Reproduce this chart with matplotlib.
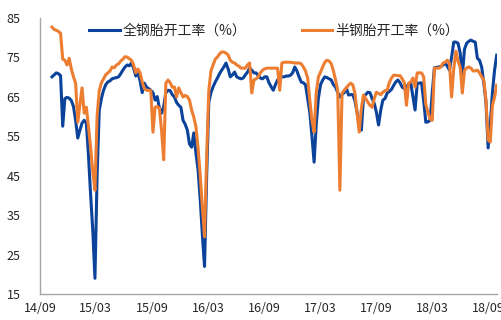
import matplotlib
matplotlib.use("Agg")
import matplotlib.pyplot as plt
import matplotlib.dates as mdates
import pandas as pd

plt.rcParams['font.family'] = ['Noto Sans CJK SC', 'DejaVu Sans']

# weekly operating rate, Oct 2014 - Sep 2018
start = "2014-10-10"
n_weeks = 208

all_steel = [
    70, 70.5, 71, 70.8, 70.3, 57.5, 64.5, 64.8, 64.6, 64,
    62.5, 59, 54.5, 56.5, 58.3, 59, 58.3, 50, 40, 31,
    19, 45, 61.5, 64.5, 66.6, 68, 68.7, 69, 69.5, 69.7,
    69.8, 70, 70.8, 71.7, 72.5, 73, 72.8, 73.5, 72.2, 70.2,
    71.2, 69, 66, 68.4, 67.4, 67, 66.6, 66, 64.1, 65,
    62, 60.8, 62.5, 66, 66.6, 66.5, 65.5, 64.9, 63.5, 62.8,
    62.3, 59, 58, 56.5, 53, 52.2, 55.8, 50.7, 46.4, 39,
    30, 22, 45, 63.6, 66, 67.5, 68.7, 69.7, 70.8, 71.7,
    72.5, 73.5, 72, 70, 70.5, 71.2, 70, 69.7, 69.5, 69.7,
    70.5, 71.2, 72.2, 71.7, 71, 71, 70.3, 69.7, 69.5, 70,
    70, 68.5, 67.5, 66.6, 68, 69.2, 69.7, 70, 70, 70.2,
    70.2, 70.4, 71, 72.5, 71.5, 70, 68.7, 68.5, 68, 64.5,
    61, 55, 48.4, 58, 64.6, 68, 69.2, 70, 69.8, 69.5,
    69.2, 68, 67.4, 66, 64.9, 65.5, 66, 67.2, 65.4, 65.5,
    65.5, 64, 61, 58, 56.5, 64.9, 65.5, 66.1, 66, 64.5,
    63.3, 61, 57.8, 61.5, 64.1, 64.5, 65.9, 66.3, 66.8, 67.8,
    68.7, 69.2, 68.5, 67.4, 67, 67.5, 68.2, 68.4, 65, 61.6,
    68.4, 68.4, 68.5, 64, 58.5, 58.6, 59, 66, 72.3, 72.4,
    72.5, 72.6, 73, 73.5, 72.7, 71.7, 75, 78.8, 78.8, 78.5,
    76, 70.4, 77, 78.5, 79, 79.3, 79, 78.8, 74.7, 74.2,
    72.5, 68.4, 63.6, 52, 57.8, 66.1, 71.7, 75.5,
]

semi_steel = [
    82.6, 82, 81.8, 81.5, 81, 74.5, 74.2, 73, 74.7, 72,
    70, 68.4, 58.5, 63, 67.2, 60.8, 62.3, 57.3, 52, 46,
    41.3, 60, 66.5, 68.5, 69.5, 70.5, 71, 71.5, 72.5, 72.3,
    73, 73.3, 74, 74.5, 75.1, 75, 74.6, 74.2, 73, 71,
    72, 71, 68.7, 67, 66.6, 66.6, 66.5, 56, 62.3, 62.5,
    62, 56.5, 49, 68.4, 69.2, 68.5, 67.4, 67.4, 64.9, 67.2,
    66, 64.9, 65.3, 65, 64.1, 61.6, 59.8, 57.3, 52, 45,
    37, 29.5, 50, 66.6, 71.5, 73, 74.5, 75, 75.8, 76.3,
    76.3, 76, 75.5, 74.2, 73.7, 73.5, 73, 72.7, 72.2, 72.2,
    72.2, 73, 73.5, 65.9, 69.2, 69.5, 70, 71, 71.7, 72,
    72.2, 72.2, 72.2, 72.2, 72.2, 72.2, 66.6, 73.5, 73.7, 73.7,
    73.7, 73.7, 73.6, 73.5, 73.5, 73.5, 73.3, 72.5, 71.5, 69.7,
    64.1, 59, 56, 66, 70, 71.2, 72.5, 73.7, 74.2, 74,
    73.3, 71.5, 69.2, 66.5, 41.3, 65.9, 66.6, 67.2, 67.9, 68.4,
    68, 65.9, 60.8, 56, 62, 65.4, 64.5, 63.6, 62.8, 62.3,
    64.5, 66.1, 65.8, 65.5, 66.1, 66.5, 66.6, 68.5, 69.7, 70.4,
    70.4, 70.3, 70.3, 69.5, 68.5, 62.8, 68.4, 68.7, 69.7, 67.4,
    71, 71, 71, 70, 63, 61, 59.3, 59, 72.2, 72.2,
    72.2, 72.5, 73.5, 73.7, 74.2, 73.5, 64.9, 72, 76.5, 74,
    72.5, 65.9, 71.7, 72.2, 72.5, 72.2, 71.5, 71.5, 71.7, 71,
    70, 69.2, 64.1, 54, 53.5, 62.8, 64.9, 67.9,
]

labels = ["全钢胎开工率（%）", "半钢胎开工率（%）"]
colors = ["#0B429A", "#ED7D31"]

dates = pd.date_range(start, periods=n_weeks, freq="7D")

fig = plt.figure(figsize=(5.02, 3.2), dpi=100)
ax = fig.add_axes([0.0797, 0.081, 0.911, 0.864])

ax.plot(dates, all_steel, color=colors[0], linewidth=2.2, label=labels[0])
ax.plot(dates, semi_steel, color=colors[1], linewidth=2.2, label=labels[1])

ax.set_ylim(15, 85)
ax.set_yticks(range(15, 86, 10))
ax.set_xlim(pd.Timestamp("2014-09-01"), pd.Timestamp("2018-09-30"))
ax.xaxis.set_major_locator(mdates.MonthLocator(bymonth=(3, 9)))
ax.xaxis.set_major_formatter(mdates.DateFormatter("%y/%m"))

for side in ("top", "right"):
    ax.spines[side].set_visible(False)
for side in ("left", "bottom"):
    ax.spines[side].set_color("#A6A6A6")
    ax.spines[side].set_linewidth(1.0)

ax.tick_params(axis="both", length=0, labelsize=9, colors="#262626")
ax.tick_params(axis="y", pad=14)
ax.tick_params(axis="x", pad=6)

leg = ax.legend(loc="center", bbox_to_anchor=(0.512, 0.951), ncol=2,
                frameon=False, fontsize=10, handlelength=2.2,
                handletextpad=0.2, columnspacing=4.0)
for t in leg.get_texts():
    t.set_color("#262626")

fig.savefig("out.png", dpi=100)
